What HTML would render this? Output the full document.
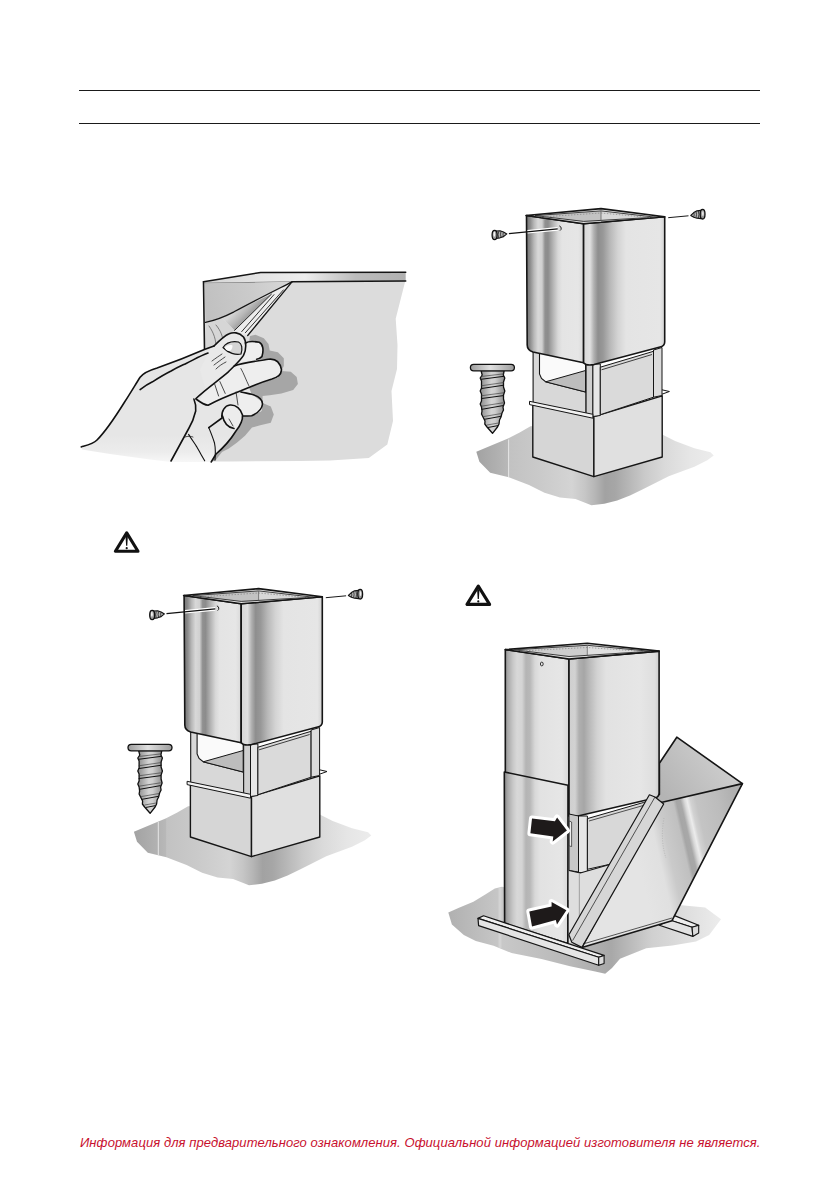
<!DOCTYPE html>
<html><head><meta charset="utf-8">
<style>
html,body{margin:0;padding:0;background:#fff;}
body{width:839px;height:1191px;position:relative;overflow:hidden;font-family:"Liberation Sans",sans-serif;}
.hr{position:absolute;left:79px;width:681px;height:1px;background:#1a1a1a;}
#disc{position:absolute;left:80px;top:1135px;font-family:"Liberation Sans",sans-serif;font-style:italic;font-size:13px;line-height:15px;color:#c8102e;white-space:nowrap;letter-spacing:0.07px;}
svg{position:absolute;left:0;top:0;}
</style></head>
<body>
<div class="hr" style="top:90px"></div>
<div class="hr" style="top:123px"></div>
<svg width="839" height="1191" viewBox="0 0 839 1191">
<defs>
<linearGradient id="gL" gradientUnits="userSpaceOnUse" x1="526" y1="0" x2="584" y2="0">
<stop offset="0.000" stop-color="#707070"/><stop offset="0.069" stop-color="#8a8a8a"/><stop offset="0.138" stop-color="#b8b8b8"/><stop offset="0.207" stop-color="#d8d8d8"/><stop offset="0.276" stop-color="#d0d0d0"/><stop offset="0.328" stop-color="#909090"/><stop offset="0.379" stop-color="#8c8c8c"/><stop offset="0.466" stop-color="#b4b4b4"/><stop offset="0.552" stop-color="#d8d8d8"/><stop offset="0.621" stop-color="#e4e4e4"/><stop offset="0.897" stop-color="#e6e6e6"/><stop offset="1.000" stop-color="#d8d8d8"/>
</linearGradient>
<linearGradient id="gR" gradientUnits="userSpaceOnUse" x1="584" y1="0" x2="665" y2="0">
<stop offset="0.000" stop-color="#d8d8d8"/><stop offset="0.074" stop-color="#e0e0e0"/><stop offset="0.123" stop-color="#b0b0b0"/><stop offset="0.173" stop-color="#8e8e8e"/><stop offset="0.235" stop-color="#989898"/><stop offset="0.321" stop-color="#b8b8b8"/><stop offset="0.420" stop-color="#d4d4d4"/><stop offset="0.519" stop-color="#e4e4e4"/><stop offset="0.938" stop-color="#e6e6e6"/><stop offset="1.000" stop-color="#d0d0d0"/>
</linearGradient>
<linearGradient id="gF" gradientUnits="userSpaceOnUse" x1="476" y1="0" x2="714" y2="0"><stop offset="0.000" stop-color="#a2a2a2"/><stop offset="0.101" stop-color="#b2b2b2"/><stop offset="0.134" stop-color="#b8b8b8"/><stop offset="0.139" stop-color="#c2c2c2"/><stop offset="0.269" stop-color="#cacaca"/><stop offset="0.403" stop-color="#d4d4d4"/><stop offset="0.458" stop-color="#c6c6c6"/><stop offset="0.500" stop-color="#b6b6b6"/><stop offset="0.542" stop-color="#a2a2a2"/><stop offset="0.584" stop-color="#a6a6a6"/><stop offset="0.647" stop-color="#b8b8b8"/><stop offset="0.710" stop-color="#cacaca"/><stop offset="0.794" stop-color="#dadada"/><stop offset="0.899" stop-color="#e6e6e6"/><stop offset="1.000" stop-color="#ececec"/>
</linearGradient>
<linearGradient id="gS" gradientUnits="userSpaceOnUse" x1="480" y1="0" x2="505" y2="0">
<stop offset="0" stop-color="#8a8a8a"/><stop offset="0.45" stop-color="#d4d4d4"/><stop offset="0.6" stop-color="#cfcfcf"/><stop offset="1" stop-color="#8a8a8a"/>
</linearGradient>
<linearGradient id="gSh" gradientUnits="userSpaceOnUse" x1="470" y1="0" x2="515" y2="0">
<stop offset="0" stop-color="#9a9a9a"/><stop offset="0.45" stop-color="#e0e0e0"/><stop offset="1" stop-color="#9a9a9a"/>
</linearGradient>
<linearGradient id="hBand" gradientUnits="userSpaceOnUse" x1="204" y1="0" x2="406" y2="0">
<stop offset="0" stop-color="#d4d4d4"/><stop offset="0.28" stop-color="#e4e4e4"/><stop offset="0.5" stop-color="#eeeeee"/><stop offset="0.62" stop-color="#d6d6d6"/><stop offset="0.75" stop-color="#bcbcbc"/><stop offset="1" stop-color="#b0b0b0"/>
</linearGradient>
<linearGradient id="hPeel" gradientUnits="userSpaceOnUse" x1="204" y1="300" x2="292" y2="282">
<stop offset="0" stop-color="#c0c0c0"/><stop offset="0.5" stop-color="#cacaca"/><stop offset="1" stop-color="#d8d8d8"/>
</linearGradient>
<linearGradient id="hFade" gradientUnits="userSpaceOnUse" x1="0" y1="435" x2="0" y2="463">
<stop offset="0" stop-color="#e6e6e6"/><stop offset="0.6" stop-color="#ececec"/><stop offset="1" stop-color="#f8f8f8"/>
</linearGradient>
<linearGradient id="kL" gradientUnits="userSpaceOnUse" x1="505.3" y1="0" x2="569" y2="0">
<stop offset="0.000" stop-color="#909090"/><stop offset="0.042" stop-color="#aaaaaa"/><stop offset="0.121" stop-color="#c8c8c8"/><stop offset="0.184" stop-color="#d8d8d8"/><stop offset="0.262" stop-color="#d4d4d4"/><stop offset="0.325" stop-color="#b4b4b4"/><stop offset="0.388" stop-color="#b8b8b8"/><stop offset="0.466" stop-color="#d8d8d8"/><stop offset="0.545" stop-color="#e2e2e2"/><stop offset="0.890" stop-color="#e6e6e6"/><stop offset="1.000" stop-color="#d6d6d6"/>
</linearGradient>
<linearGradient id="kR" gradientUnits="userSpaceOnUse" x1="569" y1="0" x2="659.1" y2="0">
<stop offset="0.000" stop-color="#cfcfcf"/><stop offset="0.067" stop-color="#d2d2d2"/><stop offset="0.111" stop-color="#b0b0b0"/><stop offset="0.166" stop-color="#a6a6a6"/><stop offset="0.222" stop-color="#b8b8b8"/><stop offset="0.311" stop-color="#d2d2d2"/><stop offset="0.411" stop-color="#e2e2e2"/><stop offset="0.788" stop-color="#e6e6e6"/><stop offset="0.954" stop-color="#dedede"/><stop offset="1.000" stop-color="#cccccc"/>
</linearGradient>
<linearGradient id="kD" gradientUnits="userSpaceOnUse" x1="640" y1="870" x2="745" y2="846">
<stop offset="0" stop-color="#e4e4e4"/><stop offset="0.2" stop-color="#e0e0e0"/><stop offset="0.3" stop-color="#cacaca"/><stop offset="0.44" stop-color="#c0c0c0"/><stop offset="0.47" stop-color="#a6a6a6"/><stop offset="0.51" stop-color="#a8a8a8"/><stop offset="0.545" stop-color="#d8d8d8"/><stop offset="0.57" stop-color="#ececec"/><stop offset="0.6" stop-color="#d2d2d2"/><stop offset="0.65" stop-color="#c4c4c4"/><stop offset="0.85" stop-color="#bcbcbc"/><stop offset="1" stop-color="#b0b0b0"/>
</linearGradient>
<linearGradient id="kB" gradientUnits="userSpaceOnUse" x1="660" y1="790" x2="720" y2="745">
<stop offset="0" stop-color="#b4b4b4"/><stop offset="1" stop-color="#cfcfcf"/>
</linearGradient>
<linearGradient id="kF" gradientUnits="userSpaceOnUse" x1="448" y1="0" x2="720" y2="0">
<stop offset="0" stop-color="#b0b0b0"/><stop offset="0.2" stop-color="#c8c8c8"/><stop offset="0.45" stop-color="#b8b8b8"/><stop offset="0.6" stop-color="#a8a8a8"/><stop offset="0.75" stop-color="#d0d0d0"/><stop offset="1" stop-color="#ececec"/>
</linearGradient>
<linearGradient id="hBandG" gradientUnits="userSpaceOnUse" x1="242" y1="303" x2="253" y2="313.5">
<stop offset="0" stop-color="#d6d6d6"/><stop offset="0.55" stop-color="#b8b8b8"/><stop offset="1" stop-color="#989898"/>
</linearGradient>
</defs>
<!--WARN-->
<g id="warn">
<path d="M126.7 532.9 L115.4 551.2 L138 551.2 Z" fill="none" stroke="#111" stroke-width="3.1" stroke-linejoin="round"/>
<path d="M125.5 536 L127.9 536 L127.3 545.8 L126.1 545.8 Z" fill="#111"/>
<circle cx="126.7" cy="548.2" r="1.1" fill="#111"/>
</g>
<use href="#warn" transform="translate(351.6,53.2)"/>
<g id="ill1" stroke-linejoin="round" stroke-linecap="round">
<!-- panel face -->
<path d="M204.5 283 L405 281 L404.9 282.5 L395.7 318.7 L397.5 345 L397 369 L391.5 391 L393 421 L387.3 444.5 L368.8 458 L330 460.5 L300 461 L230 461.5 L204.5 461.5 Z" fill="#dcdcdc"/>
<!-- band -->
<path d="M203.5 281.7 L260.6 272.5 L405.7 272.3 L405.7 281 L292 281.7 L204.8 283 Z" fill="url(#hBand)"/>
<path d="M203.5 281.7 L260.6 272.5 L405.7 272.3" fill="none" stroke="#151515" stroke-width="1.6"/>
<path d="M292 281.8 L405.7 281" fill="none" stroke="#151515" stroke-width="1.6"/>
<path d="M205 283.2 L292 281.8" fill="none" stroke="#444" stroke-width="0.7"/>
<!-- peeled area -->
<path d="M204.5 283.2 L292 281.8 C268 294 250 303 234 311.8 C222 318 212 321 205.5 322.3 Z" fill="url(#hPeel)"/>
<!-- film underside -->
<path d="M292 281.8 C268 294 250 303 234 311.8 C222 318 212 321 205.5 322.3 L205.5 350 L214 347 L229 334 L247.7 335.5 Z" fill="#e2e2e2"/>
<path d="M292 281.8 L271.5 294.1 L234.6 330.4 L247.7 335.5 Z" fill="#ededed"/>
<path d="M271.5 294.1 C266 297 262 298.5 258 300.5 C248 305.5 240 309 234 311.8 C228 314.5 224 316.5 221 317.5 C225 321 230 326 234.6 330.4 Z" fill="url(#hBandG)"/>
<path d="M205.5 322.3 C212 321 218 319 221 317.5 C226 322 231 327 234.6 330.4 L229 334 L214 347 L205.5 350 Z" fill="#d6d6d6"/>
<path d="M292 281.8 C268 294 250 303 234 311.8 C222 318 212 321 205.5 322.3" fill="none" stroke="#151515" stroke-width="1.3"/>
<path d="M291.8 282.2 L247.7 335.5" fill="none" stroke="#151515" stroke-width="1.3"/>
<path d="M271.5 294.1 L234.6 330.4 M273.9 294.7 L241.7 331.6 M283.4 289.9 L245.3 332.8" fill="none" stroke="#1a1a1a" stroke-width="0.9"/>
<path d="M209 326 C214 333 216 340 216 347 M216 325 C221 331 223 337 223 342" fill="none" stroke="#555" stroke-width="0.7"/>
<path d="M203.5 281.7 L204.5 350" fill="none" stroke="#151515" stroke-width="1.6"/>
<!-- shadows -->
<path d="M250 336 L255.5 334.7 L263.8 338.2 L268.5 344.1 L269.7 350.6 L277.9 352.3 L283.8 358.2 L283.8 366 L281.4 371.1 L290.8 371.7 L296.7 377 L297.9 384 L293.2 390 L281.4 393.5 L269.7 395.2 L262.6 396 L262.6 402.9 L270.8 406.4 L273.8 414.6 L270.8 422.8 L260.3 425.2 L252 427.5 L245 435.8 L236.8 442.8 L228.5 448.7 L222 452 L215 461 L205 461 L240 400 Z" fill="#a6a6a6"/>
<!-- hand fill -->
<path d="M81.2 446.9 L92 443.8 L102.9 434.5 L112.2 422.1 L124.6 402 L133.9 388 L140.1 377.2 L144.7 373.3 L157.1 367.9 L171.1 363.2 L186.6 357 L205 349.3 L210.7 347.5 L221.2 339.7 L229.1 333.8 L237 332.5 L243.5 337 L245.5 343 L250 341.6 L259.2 342.3 L263.2 350.2 L261.9 356.7 L256.6 359.3 L268.4 359.3 L277.6 362 L281.5 369.8 L277.6 377.7 L260.6 383 L249 387.5 L251.7 394.3 L262.5 402.6 L261.3 411 L251.7 415.8 L243 416 L242 423 L236 432 L226.7 442 L216 453.9 L211.2 462 L171 462 L150 459.5 L110 454 L82 449.5 Z" fill="url(#hFade)"/>
<!-- fingers lighter -->
<path d="M205.5 389.5 L214.7 381.6 L234.3 365.9 L250 362 L268.4 359.3 L277.6 362 L281.5 369.8 L277.6 377.7 L260.6 383 L240.9 390.8 L221.2 398.7 L208.1 405.2 L200 400 Z" fill="#eeeeee"/>
<path d="M245.5 343 L250 341.6 L259.2 342.3 L263.2 350.2 L261.9 356.7 L256.6 359.3 L240 362 L243.5 350 Z" fill="#eeeeee"/>
<path d="M240.9 392 L251.7 394.3 L262.5 402.6 L261.3 411 L251.7 415.8 L242.2 415.8 L236.3 406.8 Z" fill="#eeeeee"/>
<path d="M222 418 C221 411 225 405.5 230 405 C236 404.5 241 409 242.5 415 C243 421 240 426 236 430 L226 428 Z" fill="#ececec"/>
<path d="M210.7 347.5 L221.2 339.7 L229.1 333.8 L237 332.5 L243.5 337 L245.5 346.2 L243.5 355.4 L238.3 363.3 L227.8 372.4 L214.7 381.6 L205.5 389.5 L200 370 Z" fill="#e9e9e9"/>
<!-- outlines -->
<g fill="none" stroke="#111" stroke-width="1.6" stroke-linecap="round" stroke-linejoin="round">
<path d="M81.2 446.9 C88 445 93 444 97 440 C105 432 114 419 124.6 402 C131 392 137 382 140.1 377.2 C144 372 150 370 157.1 367.9 C170 363.5 185 358 205 349.3 L214 346"/>
<path d="M140.1 389.6 C146 385 150 383 152.5 381.8 C160 377 165 374 171.1 371 C178 367 183 365 186.6 363.2 C195 359 200 356 208 353"/>
<path d="M214 346 C219 341 224 336 229.1 333.8 C233 332 239 332 243.5 337 C246.5 341 246.5 350 243.5 355.4 C240 361 234 366 227.8 372.4 C219 380 206 389 196 398.5"/>
<path d="M245.5 343 C248 341.5 252 341 259.2 342.3 C263 344 264 350 261.9 356.7 C260 358.5 258 359.3 256.6 359.3"/>
<path d="M234.3 365.9 C242 363 250 362 268.4 359.3 C275 358.5 280 362 281.5 369.8 C281 375 278 377 272 379 C262 382 252 386 240.9 390.8 C230 395 218 400 208.1 405.2 C204 405 200 402 196 399"/>
<path d="M240.9 392 C245 393 249 393.5 251.7 394.3 C258 396 262.5 399 262.5 404 C262 409 258 413 251.7 415.8 C248 416 245 416 243 416"/>
<path d="M208.8 427.7 L222 418 C221 411 225 405.5 230 405 C236 404.5 241 409 242.5 415 C243 421 240 426 236 431 C231 439 222 449 216 454 L211.2 462"/>
<path d="M222.5 416 C224 423 228 427.5 234 428.5"/>
<path d="M193.9 399 C196 404 196 408 195.7 411 C194 418 192 423 189 428 C184 437 178 448 171 461"/>
</g>
<g fill="none" stroke="#111" stroke-width="1.1" stroke-linecap="round">
<path d="M188.6 434.4 C192 440 194.5 443 196.6 446.6 C199 451 202 456 204.7 460.8"/>
<path d="M208.7 427.4 C211 433 213 438 214.5 443 C215.5 448 215.5 454 215 460"/>
</g>
<g fill="none" stroke="#222" stroke-width="0.8">
<path d="M223 347.5 C226 343 232 341 238.5 342 C242 343.5 242.8 349 241 354 C236 355.5 228 353 223 347.5 Z" fill="#d4d4d4" stroke="#111" stroke-width="1.2"/>
<path d="M224.8 347.6 C227 345 230.5 344.5 232.5 345.5 C232.5 348.5 231 351.5 228.5 351 C226.5 350.5 225.3 349.3 224.8 347.6 Z" fill="#fafafa" stroke="none"/>
<path d="M212 361 C216 358 219 356 222 354 M214 365 C218 362 222 359 225 357 M216 369 C219 366 222 364 226 362"/>
<path d="M240.9 368.5 C244 374 246 380 248.8 385.6 M214.7 384.2 L218.6 396 M219.9 381.6 L225.2 393.4"/>
<path d="M229 419 L233 426"/>
<path d="M236 392 L238 405"/>
<path d="M185 437 C188 436 191 436 193 437"/>
</g>
</g>


<g id="chim">
<path d="M476.3 451.8 L490 446 L508 438.6 L519.7 432.4 L530.5 426.2 L600 424 L662.2 434.5 L675.1 440.9 L694.4 448.2 L710.5 452.2 L713.7 455.4 L707.3 460.2 L694.4 466.7 L681.5 471.5 L668.7 476.3 L655.8 482.8 L642.9 489.2 L630 495.6 L617.2 500.5 L604.3 503.7 L591.4 505.3 L575.5 499 L560 497.5 L544.5 492.8 L529 485.1 L508.8 477.3 L490.2 472.7 L479.4 461.8 Z" fill="url(#gF)"/>
<!-- lower box -->
<path d="M532.8 404 L593.9 417 L593.9 476.6 L532.8 457 Z" fill="#d6d6d6" stroke="#151515" stroke-width="1.4" stroke-linejoin="round"/>
<path d="M593.9 416.5 L662.2 395.8 L662.2 457 L593.9 476.6 Z" fill="#e0e0e0" stroke="#151515" stroke-width="1.4" stroke-linejoin="round"/>
<!-- middle frame -->
<path d="M533.1 350 L586 362 L586 415 L533.1 402.5 Z" fill="#d8d8d8" stroke="#151515" stroke-width="1.1"/>
<path d="M539.5 352 L585.6 363 L585.6 392 L545.6 381.8 L541.5 378.5 L539.5 374 Z" fill="#fafafa" stroke="#151515" stroke-width="1.1"/>
<path d="M545.6 381.8 L585.6 370.5 L585.6 392 Z" fill="#bdbdbd" stroke="#151515" stroke-width="1"/>
<path d="M586.1 362 L592.9 364 L592.9 417 L586.1 415 Z" fill="#cfcfcf" stroke="#151515" stroke-width="1"/>
<path d="M592.9 364 L600.3 364 L600.3 415.5 L592.9 416.5 Z" fill="#e6e6e6" stroke="#151515" stroke-width="1"/>
<path d="M600.3 367.2 L653.5 351.3 L653.5 397.2 L600.3 414.7 Z" fill="#dadada" stroke="#151515" stroke-width="1"/>
<path d="M601.5 369.8 L652 354.5" stroke="#151515" stroke-width="0.8"/>
<path d="M653.5 350 L662 347.5 L662 395.5 L653.5 397.2 Z" fill="#dcdcdc" stroke="#151515" stroke-width="1"/>
<!-- flange -->
<path d="M529.5 401.3 L592.9 414.3 L592.9 418.2 L529.5 404.6 Z" fill="#f2f2f2" stroke="#151515" stroke-width="1" stroke-linejoin="round"/>
<path d="M662 389.8 L669.4 391.5 L662 394.2" fill="none" stroke="#151515" stroke-width="1"/>
<!-- upper chimney -->
<path d="M526.5 215.5 L583.6 223.8 L583.6 362.8 L533 352 Q527.2 350 527.2 345 Z" fill="url(#gL)" stroke="#151515" stroke-width="1.6" stroke-linejoin="round"/>
<path d="M583.6 223.8 L664.7 216.8 L664.7 342 Q664.7 346 660 347 L594 364.6 Q586 366 583.6 362.8 Z" fill="url(#gR)" stroke="#151515" stroke-width="1.6" stroke-linejoin="round"/>
<!-- top rim -->
<path d="M526 215.5 L601 208.6 L664.7 216.8 L583.6 223.8 Z" fill="#e6e6e6" stroke="#151515" stroke-width="1.6" stroke-linejoin="round"/>
<path d="M535 215.6 L601 210.9 L601 221.6 L583.6 221.6 Z" fill="#c2c2c2"/>
<path d="M601 210.9 L655.5 217.2 L583.6 221.6 L601 221.6 Z" fill="#d8d8d8"/>
<path d="M535 215.6 L601 210.9 L655.5 217.2 L583.6 221.4 Z" fill="none" stroke="#2a2a2a" stroke-width="0.9"/>
<path d="M601 211 L601 220" stroke="#555" stroke-width="0.7"/>
<path d="M541 217 L601 213 L650 217.6" fill="none" stroke="#777" stroke-width="0.6" stroke-dasharray="1.5 1.5"/>
<!-- hole -->
<path d="M527.5 231.8 L557.7 228.9" stroke="#fff" stroke-width="3.6"/>
<path d="M508.9 233.6 L557.7 228.9" stroke="#111" stroke-width="1.1"/>
<path d="M559.3 225.9 A2.6 2.6 0 0 1 560 230.6" fill="none" stroke="#222" stroke-width="1"/>
<path d="M668.2 217.7 L688.5 215.8" stroke="#1a1a1a" stroke-width="1"/>
<!-- small screw left -->
<path d="M496 231 L500 230.8 L503.5 232 L506.8 233.9 L503.5 236.6 L500 237.8 L496 238.4 Z" fill="#b4b4b4" stroke="#111" stroke-width="1.2" stroke-linejoin="round"/>
<path d="M498.6 231.5 Q497.6 234.6 498.6 237.8 M501 231.3 Q500 234.3 501 237.4 M503.4 232.3 Q502.6 234.3 503.4 236.5" fill="none" stroke="#222" stroke-width="0.8"/>
<ellipse cx="494.6" cy="235" rx="2.5" ry="4.7" fill="#9a9a9a" stroke="#111" stroke-width="1.3"/>
<ellipse cx="494.3" cy="234.2" rx="0.9" ry="2.6" fill="#f4f4f4"/>
<!-- small screw right -->
<path d="M701 210.4 L697 210.8 L693.8 212.6 L690.8 215.4 L693.8 217.2 L697 218.2 L701 218.6 Z" fill="#b4b4b4" stroke="#111" stroke-width="1.2" stroke-linejoin="round"/>
<path d="M698.4 211 Q699.4 214.4 698.4 218 M696 211.3 Q697 214.4 696 217.8 M693.8 212.8 Q694.6 214.8 693.8 217" fill="none" stroke="#222" stroke-width="0.8"/>
<ellipse cx="702.6" cy="214.2" rx="2.4" ry="4.8" fill="#9a9a9a" stroke="#111" stroke-width="1.3"/>
<ellipse cx="702.9" cy="213.6" rx="0.8" ry="2.5" fill="#f0f0f0"/>
<!-- big screw -->
<path d="M481 370.5 L504.2 370.5 L503.3 375 L504.8 378 L503.5 382 L503.5 387 L504.8 391 L503.5 395 L503.5 399 L504.5 403 L503 407 L503.5 410 L502 413 L501 417 L499.5 420 L499 424 L497.5 427 L492.5 433.3 L487 427 L484.8 424 L485 421 L483 417 L481.5 414 L482 411 L481.5 407 L480.2 404 L481.5 401 L481.5 394 L480.2 391 L481.5 388 L481.5 381 L480.2 378 L482.2 375 Z" fill="url(#gS)" stroke="#111" stroke-width="1.3" stroke-linejoin="round"/>
<path d="M481 379.3 L504 376.3 M481 388.6 L504 385.2 M481 398.6 L503.5 395.6 M481.5 409.4 L503 405.6 M484 419.4 L501 416.3 M488 427.5 L498 425.6" stroke="#111" stroke-width="1" fill="none"/>
<path d="M481 376.5 L504 373.8 M481 385.8 L504 382.5 M481 395.8 L503.5 392.8 M481.5 406.2 L503 402.8 M483.5 416.6 L501.5 413.5 M487 425 L498.5 423" stroke="#333" stroke-width="0.6" fill="none"/>
<rect x="470.4" y="364.3" width="44" height="6.6" rx="3.3" fill="url(#gSh)" stroke="#111" stroke-width="1.3"/>
</g>
<use href="#chim" transform="translate(-342.4,380)"/>
<path d="M508.6 439.5 L508.6 477" stroke="#e6e6e6" stroke-width="1"/>
<path d="M158.3 822 L158.3 855.5" stroke="#e6e6e6" stroke-width="1"/>

<g id="ill4" stroke-linejoin="round">
<!-- floor -->
<path d="M448.3 912.4 L459 907.7 L473.4 901.7 L485.3 894.6 L494.8 888.6 L502 886.8 L560 900 L640 900 L679 904.9 L705.2 907.5 L721 919.3 L709.2 935.1 L696 941.6 L672.4 945.6 L646.2 948.2 L633.1 953.4 L620 958.7 L612 968 L605.2 973.7 L595.2 971.5 L570.1 966.2 L541.5 959 L511.5 953 L493.6 945.8 L475.8 941 L463.8 935.1 L451.9 924.4 Z" fill="url(#kF)"/>
<path d="M500 888 L500 948" stroke="#d6d6d6" stroke-width="3" opacity="0.8"/>
<!-- right beam -->
<path d="M669.8 920 L673.8 915.4 L698.7 925.2 L692.1 927.2 Z" fill="#eeeeee" stroke="#151515" stroke-width="1.2"/>
<path d="M669.8 920 L692.1 927.2 L692.8 936.4 L659.3 925.2 Z" fill="#e2e2e2" stroke="#151515" stroke-width="1.2"/>
<path d="M692.1 927.2 L698.7 925.2 L698.7 933.1 L692.8 936.4 Z" fill="#dadada" stroke="#151515" stroke-width="1.1"/>
<!-- back face of duct -->
<path d="M676.8 737.2 L742.4 783.6 L740 787 L663.7 804 L655 798.7 L650.8 795.4 L659.4 794.4 L659.4 763.3 Z" fill="url(#kB)" stroke="#151515" stroke-width="1.6"/>
<!-- upper chimney -->
<path d="M505.3 649.6 L569 659 L569 816 L505.3 800 Z" fill="url(#kL)" stroke="#151515" stroke-width="1.6"/>
<path d="M569 659 L659.1 651.1 L659.1 793 Q659 797 655 798 L578 816 Q571 817.5 569 814 Z" fill="url(#kR)" stroke="#151515" stroke-width="1.6"/>
<!-- top rim -->
<path d="M505.3 649.6 L587.3 643.2 L659.1 651.1 L569 659 Z" fill="#e6e6e6" stroke="#151515" stroke-width="1.6"/>
<path d="M514.3 649.8 L587.3 645.3 L587.3 656.6 L569 656.6 Z" fill="#cecece"/>
<path d="M587.3 645.3 L650 651.3 L569 656.6 L587.3 656.6 Z" fill="#e0e0e0"/>
<path d="M514.3 649.8 L587.3 645.3 L650 651.3 L569 656.5 Z" fill="none" stroke="#2a2a2a" stroke-width="0.9"/>
<path d="M587.3 645.5 L587.3 655.5" stroke="#555" stroke-width="0.7"/>
<path d="M520 651 L587.3 647.5 L645 651.6" fill="none" stroke="#777" stroke-width="0.6" stroke-dasharray="1.5 1.5"/>
<ellipse cx="541.8" cy="664" rx="1.4" ry="1.9" fill="#e8e8e8" stroke="#222" stroke-width="0.9"/>
<!-- middle frame -->
<path d="M569 814 L578.5 816 L578.5 872 L569 870.5 Z" fill="#c8c8c8" stroke="#151515" stroke-width="1"/>
<path d="M578.5 816 L587.4 816 L587.4 872.5 L578.5 872.5 Z" fill="#e6e6e6" stroke="#151515" stroke-width="1"/>
<path d="M587.4 818.6 L643.4 802.5 L652 800 L640 858 L608.9 864.5 L587.4 869.3 Z" fill="#d8d8d8" stroke="#151515" stroke-width="1"/>
<path d="M589 821 L645 805" stroke="#151515" stroke-width="0.7"/>
<path d="M569.3 821 L571.6 822 L571.6 846.5 L569.3 846 Z" fill="#eeeeee" stroke="#222" stroke-width="0.7"/>
<!-- lower box -->
<path d="M569 870.5 L580.2 873 L608.9 864.7 L600 900 L585 945 L569 943 Z" fill="#dedede"/>
<path d="M569 870.5 L580.2 873 L608.9 864.7" fill="none" stroke="#151515" stroke-width="1.1"/>
<path d="M579.4 874 L579.4 920" stroke="#aaa" stroke-width="1.2"/>
<!-- duct front -->
<path d="M660 802.7 L742.4 783.6 L672 920.7 L581.9 947.4 Z" fill="url(#kD)" stroke="#151515" stroke-width="1.6"/>
<path d="M649.4 794.8 L655 797 L663.7 804 L581.9 947.4 L571.8 942.3 L568.9 934.8 Z" fill="#d6d6d6" stroke="#151515" stroke-width="1.2"/>
<path d="M655 797 L572.6 940.6" stroke="#151515" stroke-width="0.7"/>
<path d="M583 944 L672 918" stroke="#151515" stroke-width="0.7"/>
<path d="M664 818 Q660 840 666 858" fill="none" stroke="#aaa" stroke-width="0.7" stroke-dasharray="1 1.5"/>
<!-- sleeve -->
<path d="M504.3 772 L568 785.3 L567.8 943.6 L504.6 923.4 Z" fill="url(#kL)" stroke="#151515" stroke-width="1.6"/>
<!-- left beam -->
<path d="M483.5 915.8 L604.1 955.4 L598.7 957.2 L478 918.4 Z" fill="#eeeeee" stroke="#151515" stroke-width="1.2"/>
<path d="M478 918.4 L598.7 957.2 L598.7 965.3 L478.6 925.6 Z" fill="#e4e4e4" stroke="#151515" stroke-width="1.2"/>
<path d="M598.7 957.2 L604.1 955.4 L604.1 963.5 L598.7 965.3 Z" fill="#dadada" stroke="#151515" stroke-width="1.1"/>
<!-- arrows -->
<g fill="#fff" stroke="#fff" stroke-width="6" stroke-linejoin="round">
<path id="ar1" d="M532 818.6 L554.9 821.3 L557.1 817.5 L566.9 830.6 L552.7 841.5 L553.3 836.6 L530.4 833.3 Z"/>
<path id="ar2" d="M529.3 911.4 L551.6 906.5 L551.6 902 L566.4 910.3 L557 924.5 L555.8 920 L532 926.6 Z"/>
</g>
<g fill="#1e1a1a">
<path d="M532 818.6 L554.9 821.3 L557.1 817.5 L566.9 830.6 L552.7 841.5 L553.3 836.6 L530.4 833.3 Z"/>
<path d="M529.3 911.4 L551.6 906.5 L551.6 902 L566.4 910.3 L557 924.5 L555.8 920 L532 926.6 Z"/>
</g>
</g>


</svg>
<div id="disc">Информация для предварительного ознакомления. Официальной информацией изготовителя не является.</div>
</body></html>
